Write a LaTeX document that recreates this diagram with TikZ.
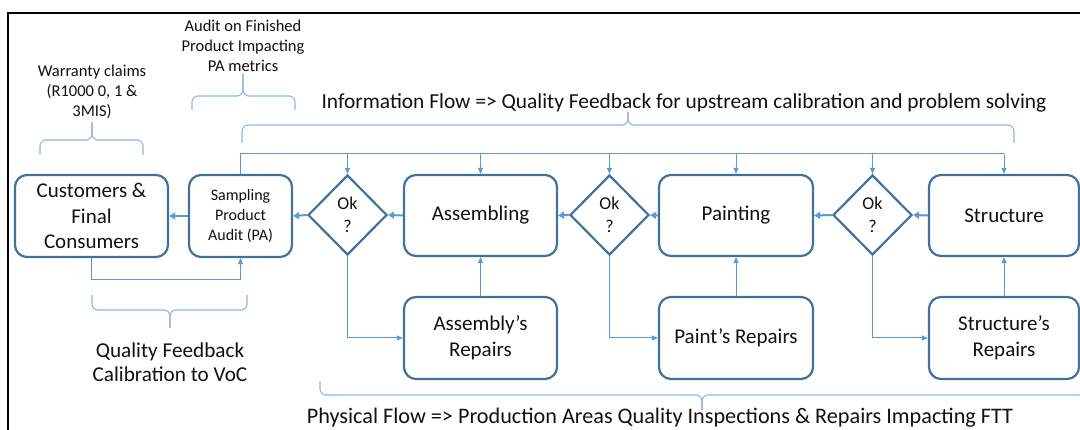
\documentclass[tikz,border=0pt]{standalone}
\usepackage{fontspec}
\setmainfont{Carlito}
\usetikzlibrary{arrows.meta,shapes.geometric}
\definecolor{boxline}{HTML}{41719C}
\definecolor{conn}{HTML}{5B9BD5}
\definecolor{bracec}{HTML}{8DB8E2}
\definecolor{txt}{HTML}{111111}
\newcommand\mybrace[6]{%
  \draw[bracestyle] (#1,#3) -- (#1,#4) -- (#6,#4) -- (#6,#5);
  \draw[bracestyle] (#2,#3) -- (#2,#4) -- (#6,#4) -- (#6,#5);}
\tikzset{
  box/.style={draw=boxline, line width=2.2pt, rounded corners=12pt, fill=white,
    text=txt, align=center, inner sep=0pt, minimum width=153pt, minimum height=82pt,
    font=\fontsize{21}{25.5}\selectfont},
  decision/.style={diamond, aspect=1, draw=boxline, line width=2.2pt, fill=white,
    text=txt, align=center, inner sep=0pt, minimum width=79pt, minimum height=80pt,
    font=\fontsize{18}{23}\selectfont},
  flow/.style={draw=conn, line width=2pt, -{Triangle[length=6pt,width=7pt]}},
  thinflow/.style={draw=conn, line width=1pt, -{Triangle[length=6pt,width=5pt]}},
  thinline/.style={draw=conn, line width=1pt},
  bracestyle/.style={draw=bracec, line width=1.1pt, rounded corners=6pt},
  lbl/.style={text=txt, align=center, inner sep=0pt},
}
\begin{document}
\begin{tikzpicture}[x=1pt,y=-1pt]
\clip (0,0) rectangle (1080,430);
\fill[white] (0,0) rectangle (1080,430);
\draw[black, line width=2pt] (8,13) rectangle (1100,450);

% nodes
\node[box] (cust) at (91.5,216) {Customers \&\\Final\\Consumers};
\node[box, minimum width=103pt, font=\fontsize{16}{20}\selectfont] (pa) at (240.5,216) {Sampling\\Product\\Audit (PA)};
\node[decision] (d1) at (347.5,215) {Ok\\?};
\node[box, minimum height=81pt] (asm) at (480.5,215.5) {Assembling};
\node[box] (asmr) at (480.5,338) {Assembly’s\\Repairs};
\node[decision] (d2) at (609.5,215) {Ok\\?};
\node[box, minimum width=154pt, minimum height=81pt] (pnt) at (736,215.5) {Painting};
\node[box, minimum width=154pt] (pntr) at (736,338) {Paint’s Repairs};
\node[decision] (d3) at (872.5,215) {Ok\\?};
\node[box, minimum width=150pt, minimum height=81pt] (str) at (1004,215.5) {Structure};
\node[box, minimum width=150pt] (strr) at (1004,338) {Structure’s\\Repairs};

% main physical flow
\draw[flow] (str.west) -- (d3.east);
\draw[flow] (d3.west) -- (pnt.east);
\draw[flow] (pnt.west) -- (d2.east);
\draw[flow] (d2.west) -- (asm.east);
\draw[flow] (asm.west) -- (d1.east);
\draw[flow] (d1.west) -- (pa.east);
\draw[flow] (pa.west) -- (cust.east);

% repair loops
\draw[thinflow] (d1.south) |- (asmr.west);
\draw[thinflow] (asmr.north) -- (asm.south);
\draw[thinflow] (d2.south) |- (pntr.west);
\draw[thinflow] (pntr.north) -- (pnt.south);
\draw[thinflow] (d3.south) |- (strr.west);
\draw[thinflow] (strr.north) -- (str.south);

% customer feedback
\draw[thinflow] (cust.south) -- ++(0,21) -| (pa.south);

% information feedback
\coordinate (fb) at (240.5,154);
\draw[thinline] (pa.north) -- (fb) -- (fb -| str.north);
\draw[thinflow] (fb -| d1.north) -- (d1.north);
\draw[thinflow] (fb -| asm.north) -- (asm.north);
\draw[thinflow] (fb -| d2.north) -- (d2.north);
\draw[thinflow] (fb -| pnt.north) -- (pnt.north);
\draw[thinflow] (fb -| d3.north) -- (d3.north);
\draw[thinflow] (fb -| str.north) -- (str.north);

% braces
\mybrace{40}{143}{155}{140}{122}{92}
\mybrace{192}{295}{110}{96}{74}{243}
\mybrace{242}{1014}{143}{125}{112}{628}
\mybrace{92}{247}{295}{310}{328}{170}
\mybrace{320}{1084}{381}{395}{410}{702}

% labels
\node[lbl, font=\fontsize{16.5}{20}\selectfont] (warr) at (92,92) {Warranty claims\\(R1000 0, 1 \&\\3MIS)};
\node[lbl, font=\fontsize{16.5}{20}\selectfont] (audit) at (243,46) {Audit on Finished\\Product Impacting\\PA metrics};
\node[lbl, font=\fontsize{21.4}{24}\selectfont, anchor=base] (info) at (684,109) {Information Flow => Quality Feedback for upstream calibration and problem solving};
\node[lbl, font=\fontsize{21.2}{24}\selectfont] (qf) at (170,362) {Quality Feedback\\Calibration to VoC};
\node[lbl, font=\fontsize{22.2}{24}\selectfont, anchor=base] (phys) at (660,424) {Physical Flow => Production Areas Quality Inspections \& Repairs Impacting FTT};
\end{tikzpicture}
\end{document}
